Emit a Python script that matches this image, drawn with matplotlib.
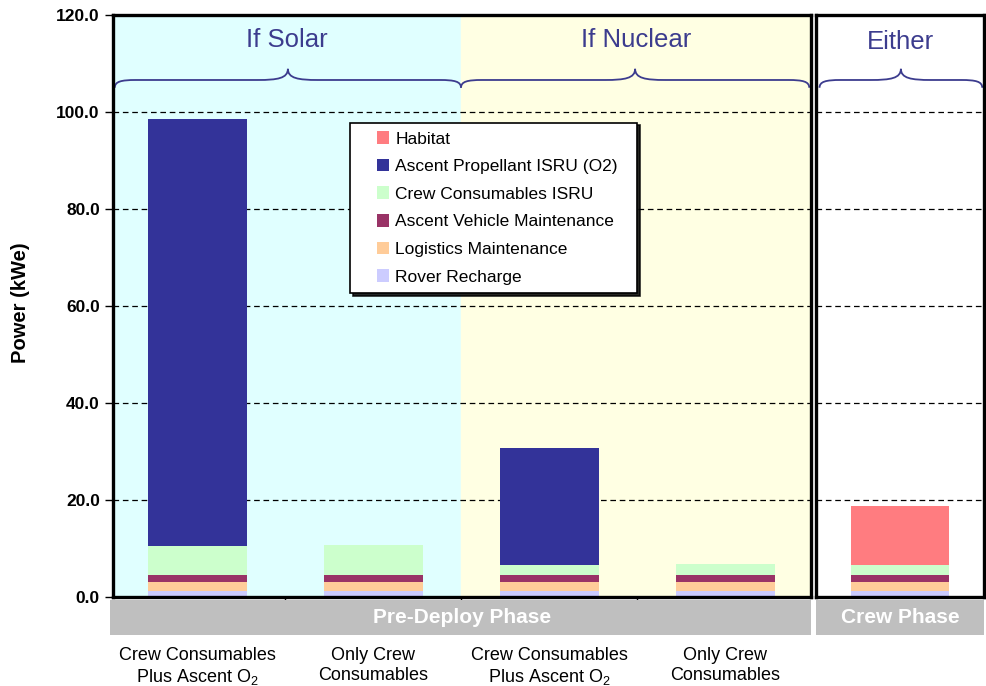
import numpy as np
import matplotlib
matplotlib.use("Agg")
import matplotlib.pyplot as plt
from matplotlib.path import Path
from matplotlib.patches import PathPatch, Rectangle
from matplotlib.legend_handler import HandlerPatch

plt.rcParams['font.family'] = ['Liberation Sans', 'DejaVu Sans']
plt.rcParams['mathtext.fontset'] = 'custom'
plt.rcParams['mathtext.rm'] = 'Liberation Sans'
plt.rcParams['mathtext.default'] = 'rm'

# data (kWe), stacked bottom -> top
categories = ["Crew Consumables\nPlus Ascent O$_2$", "Only Crew\nConsumables",
              "Crew Consumables\nPlus Ascent O$_2$", "Only Crew\nConsumables", ""]
rover = [1.2, 1.2, 1.2, 1.2, 1.2]
logistics = [1.9, 1.9, 1.9, 1.9, 1.9]
vehicle_maint = [1.4, 1.4, 1.4, 1.4, 1.4]
crew_isru = [6.0, 6.2, 2.1, 2.3, 2.0]
ascent_o2 = [88.0, 0, 24.2, 0, 0]
habitat = [0, 0, 0, 0, 12.2]

series_names = ["Rover Recharge", "Logistics Maintenance", "Ascent Vehicle Maintenance",
                "Crew Consumables ISRU", "Ascent Propellant ISRU (O2)", "Habitat"]
series_values = [rover, logistics, vehicle_maint, crew_isru, ascent_o2, habitat]
colors = ["#CCCCFF", "#FFCC99", "#993366", "#CCFFCC", "#333399", "#FF7C80"]

brace_color = "#3C3C8E"
px = 176.0  # pixels per category

fig = plt.figure(figsize=(9.86, 6.86), dpi=100)
ax1 = fig.add_axes([113 / 986, 89 / 686, 698 / 986, 582 / 686])
ax2 = fig.add_axes([816 / 986, 89 / 686, 168 / 986, 582 / 686])

x = np.arange(len(categories))
width = 0.5625
lim1 = (-84 / px, -84 / px + 698 / px)
lim2 = (4 - 84 / px, 4 + 84 / px)

for ax, idx in [(ax1, [0, 1, 2, 3]), (ax2, [4])]:
    bottom = np.zeros(len(idx))
    for name, vals, c in zip(series_names, series_values, colors):
        v = np.array(vals, dtype=float)[idx]
        ax.bar(x[idx], v, width, bottom=bottom, color=c, zorder=3)
        bottom += v
    ax.set_ylim(0, 120)
    ax.set_yticks(np.arange(0, 121, 20))
    ax.yaxis.grid(True, color="black", linestyle=(0, (4.5, 3)), linewidth=0.9, zorder=1)
    ax.set_axisbelow(True)
    for s in ax.spines.values():
        s.set_linewidth(2.4)
        s.set_zorder(5)

ax1.set_xlim(*lim1)
ax2.set_xlim(*lim2)

# background regions
ax1.axvspan(lim1[0], 1.5, color="#E0FFFF", zorder=0)
ax1.axvspan(1.5, lim1[1], color="#FFFFE3", zorder=0)
ax2.set_facecolor("white")

# axis ticks/labels
ax1.set_yticklabels([f"{t:.1f}" for t in np.arange(0, 121, 20)], fontsize=12.5, fontweight="bold")
ax1.tick_params(axis="y", length=6, width=1, direction="out")
ax1.set_ylabel("Power (kWe)", fontsize=14.5, fontweight="bold")
ax1.yaxis.set_label_coords(-0.119, 0.505)
ax1.set_xticks(x[:4])
ax1.set_xticklabels(categories[:4], fontsize=13, linespacing=1.2)
ax1.tick_params(axis="x", which="major", length=0, pad=36)
ax1.set_xticks([0.5, 1.5, 2.5], minor=True)
ax1.tick_params(axis="x", which="minor", length=4, width=1, direction="out")
ax2.set_xticks([])
ax2.set_yticks([])
ax2.yaxis.grid(False)
for t in np.arange(20, 101, 20):
    ax2.axhline(t, color="black", linestyle=(0, (4.5, 3)), linewidth=0.9, zorder=1)


def brace(ax, x0, x1, y=106.6, d=1.6, h=2.3, we=0.12, wt=0.17):
    xm = (x0 + x1) / 2
    verts = [(x0, y - d), (x0, y - d * 0.2), (x0 + we * 0.3, y), (x0 + we, y),
             (xm - wt, y),
             (xm - wt * 0.35, y), (xm, y + h * 0.15), (xm, y + h),
             (xm, y + h * 0.15), (xm + wt * 0.35, y), (xm + wt, y),
             (x1 - we, y),
             (x1 - we * 0.3, y), (x1, y - d * 0.2), (x1, y - d)]
    codes = [Path.MOVETO] + [Path.CURVE4] * 3 + [Path.LINETO] + [Path.CURVE4] * 6 + \
            [Path.LINETO] + [Path.CURVE4] * 3
    ax.add_patch(PathPatch(Path(verts, codes), fill=False, edgecolor=brace_color,
                           linewidth=1.3, clip_on=False, zorder=4))


brace(ax1, lim1[0] + 0.01, 1.5)
brace(ax1, 1.5, lim1[1] - 0.01)
brace(ax2, lim2[0] + 0.02, lim2[1] - 0.01)
ax1.text((lim1[0] + 1.5) / 2, 114.8, "If Solar", ha="center", va="center",
         fontsize=18.5, color=brace_color, zorder=4)
ax1.text((1.5 + lim1[1]) / 2, 114.8, "If Nuclear", ha="center", va="center",
         fontsize=18.5, color=brace_color, zorder=4)
ax2.text(4, 114.5, "Either", ha="center", va="center",
         fontsize=18.5, color=brace_color, zorder=4)

# phase bands below the axes
for ax, label, x0 in [(ax1, "Pre-Deploy Phase", -0.004), (ax2, "Crew Phase", 0.0)]:
    ax.add_patch(Rectangle((x0, -0.065), 1 - x0, 0.06, transform=ax.transAxes,
                           facecolor="#BFBFBF", edgecolor="none", clip_on=False))
    ax.text(0.5, -0.035, label, transform=ax.transAxes, ha="center", va="center",
            fontsize=15, fontweight="bold", color="white")


def square(legend, orig_handle, xdescent, ydescent, width, height, fontsize):
    s = 0.72 * fontsize
    return Rectangle((-xdescent + width - s, -ydescent + (height - s) / 2), s, s)


# legend, top entry = top of stack
handles = [Rectangle((0, 0), 1, 1, facecolor=c, edgecolor="none") for c in colors][::-1]
labels = series_names[::-1]
leg = ax1.legend(handles, labels, loc="upper left",
                 bbox_to_anchor=(0.34, 0.815, 0.411, 0), mode="expand",
                 borderaxespad=0, fontsize=12.5, frameon=True, fancybox=False,
                 framealpha=1, edgecolor="black", borderpad=0.5, labelspacing=0.72,
                 handlelength=1.75, handletextpad=0.35,
                 shadow={"color": "black", "alpha": 0.85},
                 handler_map={Rectangle: HandlerPatch(patch_func=square)})
leg.get_frame().set_linewidth(1.2)
leg.set_zorder(6)

fig.savefig("out.png", dpi=100)
